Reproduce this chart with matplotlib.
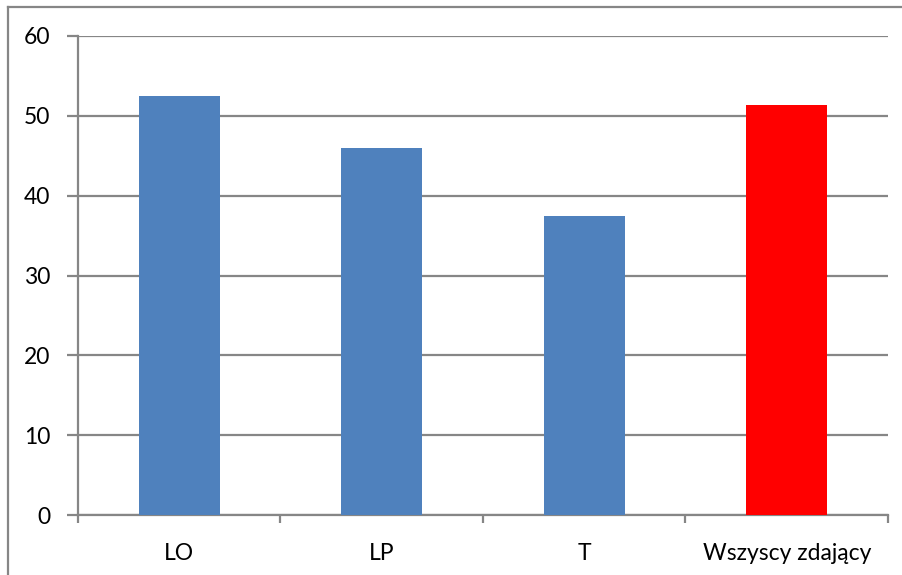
import matplotlib
matplotlib.use("Agg")
import matplotlib.pyplot as plt
from matplotlib.lines import Line2D
import numpy as np

categories = ["LO", "LP", "T", "Wszyscy zdający"]
values = [52.5, 46.0, 37.5, 51.4]
colors = ["#4F81BD", "#4F81BD", "#4F81BD", "#FF0000"]
yticks = [0, 10, 20, 30, 40, 50, 60]

plt.rcParams['font.family'] = ['Lato', 'DejaVu Sans']

W, H = 903, 575
fig = plt.figure(figsize=(W / 100, H / 100), dpi=100)
ax = fig.add_axes([78 / W, 1 - 515 / H, (888 - 78) / W, (515 - 36) / H])

grid_c = "#868686"
x = np.arange(len(categories))
ax.bar(x, values, width=0.4, color=colors, zorder=3)
ax.set_xlim(-0.5, len(categories) - 0.5)
ax.set_ylim(0, 60)
ax.set_yticks(yticks)
ax.set_yticklabels([str(v) for v in yticks], fontsize=16.5)
ax.yaxis.grid(True, color=grid_c, linewidth=1.6, zorder=0)
ax.set_axisbelow(True)

ax.set_xticks(np.arange(-0.5, len(categories), 1.0))
ax.set_xticklabels([])
ax.set_xticks(x, minor=True)
ax.set_xticklabels(categories, minor=True, fontsize=16.5)
ax.tick_params(axis='x', which='minor', length=0, pad=20)
ax.tick_params(axis='x', which='major', length=6, width=1.6, color=grid_c, direction='out')
ax.tick_params(axis='y', length=8, width=1.6, color=grid_c, pad=12)

for s in ['top', 'right']:
    ax.spines[s].set_visible(False)
for s in ['left', 'bottom']:
    ax.spines[s].set_color(grid_c)
    ax.spines[s].set_linewidth(1.6)

# figure border (top and left)
fig.add_artist(Line2D([8 / W, 1.0], [1 - 7 / H, 1 - 7 / H], color=grid_c, linewidth=1.6, transform=fig.transFigure))
fig.add_artist(Line2D([8 / W, 8 / W], [0.0, 1 - 7 / H], color=grid_c, linewidth=1.6, transform=fig.transFigure))

fig.savefig("out.png", dpi=100)
